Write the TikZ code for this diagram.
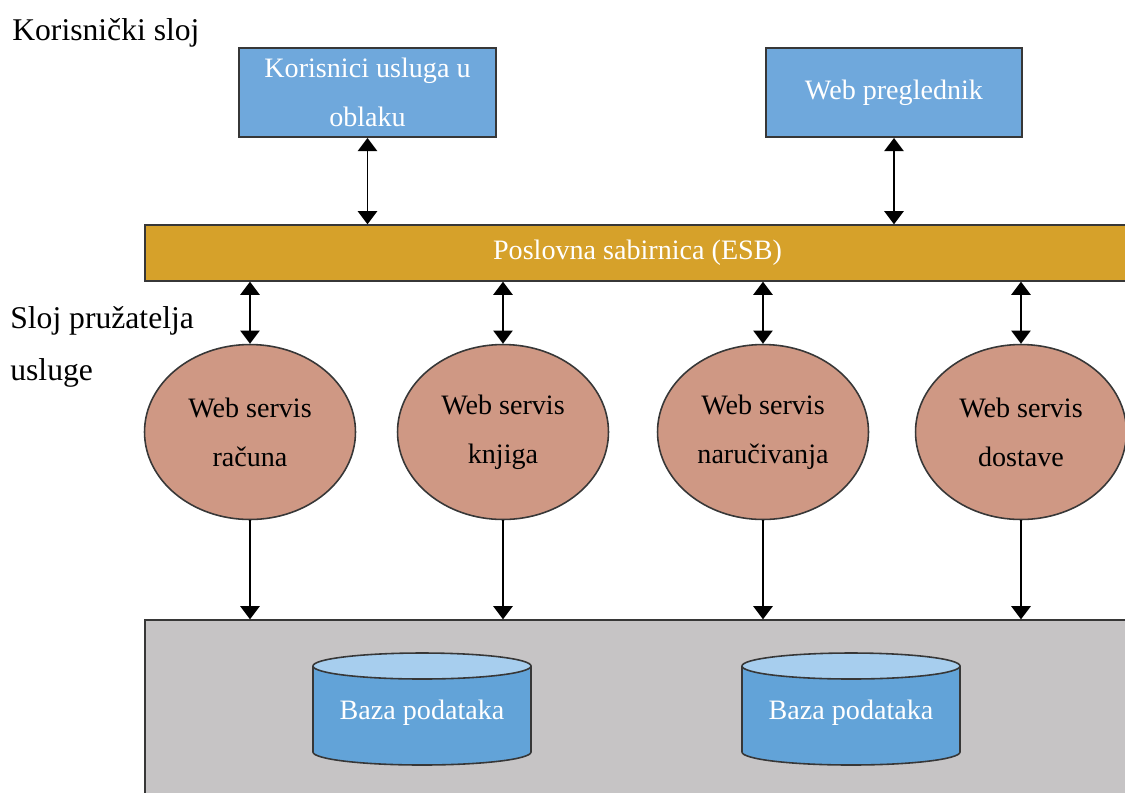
\documentclass[tikz,border=0pt]{standalone}
\usepackage{fontspec}
\setmainfont{Liberation Serif}
\usetikzlibrary{arrows.meta,shapes.geometric}
\definecolor{boxblue}{RGB}{111,168,220}
\definecolor{busgold}{RGB}{214,161,42}
\definecolor{ellfill}{RGB}{207,152,132}
\definecolor{dbgray}{RGB}{198,196,197}
\definecolor{cylbody}{RGB}{98,163,216}
\definecolor{cyltop}{RGB}{167,206,238}
\definecolor{edgegray}{RGB}{55,55,55}
\begin{document}
\begin{tikzpicture}[x=0.02cm,y=-0.02cm,
  labeltext/.style={font=\fontsize{18}{22}\selectfont, inner sep=0pt},
  userbox/.style={draw=edgegray, line width=1.1pt, fill=boxblue, text=white, minimum width=5.14cm, minimum height=1.78cm, align=center, font=\fontsize{16}{28}\selectfont, inner sep=0pt},
  busbar/.style={draw=edgegray, line width=0.8pt, fill=busgold, text=white, minimum width=19.7cm, minimum height=1.12cm, inner sep=0pt},
  service/.style={ellipse, draw=edgegray, line width=0.9pt, fill=ellfill, minimum width=4.22cm, minimum height=3.5cm, align=center, font=\fontsize{16}{28}\selectfont, inner sep=0pt},
  storage/.style={draw=edgegray, line width=0.8pt, fill=dbgray, minimum width=19.7cm, minimum height=3.6cm, inner sep=0pt},
  both/.style={line width=1pt, {Triangle[width=11pt,length=7.5pt]}-{Triangle[width=11pt,length=7.5pt]}},
  down/.style={line width=1pt, -{Triangle[width=11pt,length=7.5pt]}},
  cylline/.style={draw=edgegray, line width=0.9pt}
]
\useasboundingbox (0,0) rectangle (1125,792);

% layer labels
\node[labeltext, anchor=base west] (lbluser) at (12,40) {Korisnički sloj};
\node[labeltext, anchor=base west] (lblprov1) at (10,328) {Sloj pružatelja};
\node[labeltext, anchor=base west] (lblprov2) at (10,380) {usluge};

% top boxes
\node[userbox] (cloud) at (367.5,92.5) {Korisnici usluga u\\oblaku};
\node[userbox, minimum width=5.12cm] (browser) at (894,92.5) {Web preglednik};

% bus
\node[busbar] (bus) at (637.5,253) {\fontsize{16}{20}\selectfont Poslovna sabirnica (ESB)};

% storage area
\node[storage] (store) at (637.5,710) {};

% services
\node[service] (s1) at (250,432) {Web servis\\računa};
\node[service] (s2) at (503,432) {Web servis\\knjiga};
\node[service] (s3) at (763,432) {Web servis\\naručivanja};
\node[service] (s4) at (1021,432) {Web servis\\dostave};

% arrows top
\draw[both] (cloud.south) -- (cloud.south |- bus.north);
\draw[both] (browser.south) -- (browser.south |- bus.north);
\foreach \s in {s1,s2,s3,s4}{
  \draw[both] (\s.north |- bus.south) -- (\s.north);
  \draw[down] (\s.south) -- (\s.south |- store.north);
}

% cylinders
\foreach \cx/\nm in {422/db1, 851/db2}{
  \filldraw[cylline, fill=cylbody] (\cx,752) ellipse[x radius=109, y radius=13];
  \fill[cylbody] (\cx-109,666) rectangle (\cx+109,752);
  \draw[cylline] (\cx-109,666) -- (\cx-109,752);
  \draw[cylline] (\cx+109,666) -- (\cx+109,752);
  \filldraw[cylline, fill=cyltop] (\cx,666) ellipse[x radius=109, y radius=13];
  \node[text=white, font=\fontsize{16}{20}\selectfont, inner sep=0pt] (\nm) at (\cx,713) {Baza podataka};
}
\end{tikzpicture}
\end{document}
